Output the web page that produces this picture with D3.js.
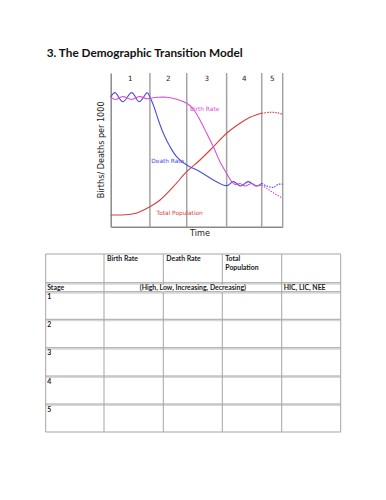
<!DOCTYPE html>
<html>
<head>
<meta charset="utf-8">
<script src="https://cdn.jsdelivr.net/npm/d3@7"></script>
<style>
  body { margin: 0; background: #fff; }
  svg { display: block; }
</style>
</head>
<body>
<svg width="386" height="500"></svg>
<script>
// stage boundaries along the time axis (0-100)
var stageEdges = [0, 22.8, 44.2, 67.4, 87.8, 100];
var stageNames = ["1", "2", "3", "4", "5"];

// [time, rate], rate on a 0-100 scale
var birthRate = [[0,84.4],[2.5,82.8],[7,84.6],[12.2,82.8],[16.6,84.6],[21.3,83.2],[22.8,83.5],
  [27.7,84.2],[32.6,84.2],[38.4,82.9],[44.2,80.3],[47.8,76.9],[51.9,69.4],[55.8,60.8],[59.7,52.0],
  [63.5,42.3],[67.4,34.7],[70.3,29.3],[72.3,27.5],[75.2,28.1],[78.1,26.5],[82,28.1],[84.8,26.5],
  [87.8,27.1],[90.7,25.0],[94.5,22.1],[100,18.5]];
var deathRate = [[0,84.4],[2.5,87.2],[7,81.3],[12.2,87.2],[16.6,81.3],[21.3,87.2],[22.8,84.2],
  [24.8,79.2],[27.7,69.4],[30.6,60.8],[34.5,52.0],[38.4,45.5],[44.2,40.1],[51.9,35.8],[59.7,30.4],
  [67.4,26.7],[71.3,29.3],[75.5,26.5],[80,29.3],[84.5,26.5],[87.8,28.2],[90.7,26.5],[94.5,25.6],
  [97.4,27.6],[100,27.6]];
var totalPop = [[0,7.6],[8.3,7.8],[14.1,8.6],[17,9.8],[22.8,13.0],[28.7,17.4],[36.4,26.0],
  [44.2,35.8],[51.9,43.4],[59.7,52.0],[67.4,60.8],[75.2,67.3],[81,71.2],[87.8,73.8],[92.6,74.4],
  [96.5,74.2],[100,73.1]];

// table texts
var tableHeaders = ["", "Birth Rate", "Death Rate", "Total|Population", ""];
var subHeaders = ["Stage", "(High, Low, Increasing, Decreasing)", "HIC, LIC, NEE"];
var tableStages = ["1", "2", "3", "4", "5"];

var svg = d3.select("svg");

// font size that gives a text the width it has in the picture
function fitSize(str, family, weight, width) {
    var t = svg.append("text").attr("font-family", family).attr("font-weight", weight)
        .attr("font-size", 10).text(str);
    var w = t.node().getComputedTextLength();
    t.remove();
    return 10 * width / w;
}

svg.append("text")
    .attr("x", 46.7)
    .attr("y", 57.3)
    .attr("font-family", "Lato")
    .attr("font-weight", "bold")
    .attr("font-size", fitSize("3. The Demographic Transition Model", "Lato", "bold", 196))
    .attr("fill", "#111")
    .text("3. The Demographic Transition Model");

// ---- chart ----
var x = d3.scaleLinear().domain([0, 100]).range([110.7, 282.7]);
var y = d3.scaleLinear().domain([0, 100]).range([226.7, 73]);

var chart = svg.append("g");

chart.selectAll(".stage")
    .data(stageEdges.slice(1))
    .enter()
    .append("line")
    .attr("class", "stage")
    .attr("x1", function(d) { return x(d); })
    .attr("x2", function(d) { return x(d); })
    .attr("y1", y(0))
    .attr("y2", y(100))
    .attr("stroke", "#a3a3a3")
    .attr("stroke-width", 1.5);

chart.append("g")
    .attr("transform", "translate(0," + y(0) + ")")
    .call(d3.axisBottom(x).tickValues([]).tickSizeOuter(0))
    .select(".domain").attr("stroke", "#8a8a8a").attr("stroke-width", 1.5);

chart.append("g")
    .attr("transform", "translate(" + x(0) + ",0)")
    .call(d3.axisLeft(y).tickValues([]).tickSizeOuter(0))
    .select(".domain").attr("stroke", "#8a8a8a").attr("stroke-width", 1.5);

chart.selectAll(".stageName")
    .data(stageNames)
    .enter()
    .append("text")
    .attr("class", "stageName")
    .attr("x", function(d, i) { return x((stageEdges[i] + stageEdges[i + 1]) / 2); })
    .attr("y", 80.7)
    .attr("text-anchor", "middle")
    .attr("font-family", "DejaVu Sans")
    .attr("font-size", 7.2)
    .attr("fill", "#222")
    .text(function(d) { return d; });

var line = d3.line()
    .x(function(d) { return x(d[0]); })
    .y(function(d) { return y(d[1]); })
    .curve(d3.curveCatmullRom.alpha(0.5));

var projFrom = stageEdges[4];
var labelSize = fitSize("Death Rate", "DejaVu Sans", "normal", 33);
var series = [
    { data: totalPop, color: "#d63f3f", label: "Total Population", lx: 26.7, ly: 7.4 },
    { data: deathRate, color: "#4d4de0", label: "Death Rate", lx: 23.6, ly: 41.6 },
    { data: birthRate, color: "#d551d5", label: "Birth Rate", lx: 46.1, ly: 75.5 }
];

series.forEach(function(s) {
    var solid = s.data.filter(function(d) { return d[0] <= projFrom; });
    var proj = s.data.filter(function(d) { return d[0] >= projFrom; });
    chart.append("path")
        .attr("d", line(solid))
        .attr("fill", "none")
        .attr("stroke", s.color)
        .attr("stroke-width", 1.1);
    chart.append("path")
        .attr("d", line(proj))
        .attr("fill", "none")
        .attr("stroke", s.color)
        .attr("stroke-width", 1.1)
        .attr("stroke-dasharray", "1.5,1.2");
    chart.append("text")
        .attr("x", x(s.lx))
        .attr("y", y(s.ly))
        .attr("font-family", "DejaVu Sans")
        .attr("font-size", labelSize)
        .attr("fill", s.color)
        .text(s.label);
});

chart.append("text")
    .attr("transform", "translate(104," + y(50) + ") rotate(-90)")
    .attr("text-anchor", "middle")
    .attr("font-family", "DejaVu Sans")
    .attr("font-size", fitSize("Births/ Deaths per 1000", "DejaVu Sans", "normal", 97))
    .attr("fill", "#222")
    .text("Births/ Deaths per 1000");

chart.append("text")
    .attr("x", 200)
    .attr("y", 235.5)
    .attr("text-anchor", "middle")
    .attr("font-family", "DejaVu Sans")
    .attr("font-size", fitSize("Time", "DejaVu Sans", "normal", 20))
    .attr("fill", "#222")
    .text("Time");

// ---- table ----
var colX = [45.7, 104, 163.3, 222.3, 281.7, 340.7];
var rowY = [254, 282.7, 291.7, 319.3, 347.7, 376, 404, 432];
var table = svg.append("g").attr("font-family", "Lato").attr("font-weight", "bold")
    .attr("font-size", 6.9).attr("fill", "#1a1a1a");

// horizontal rules, inner ones drawn as a soft double line
rowY.forEach(function(yy, i) {
    var inner = i > 0 && i < rowY.length - 1;
    if (inner) {
        table.append("line")
            .attr("x1", colX[0]).attr("x2", colX[5])
            .attr("y1", yy + 1.3).attr("y2", yy + 1.3)
            .attr("stroke", "#d6d6d6").attr("stroke-width", 1.4);
    }
    table.append("line")
        .attr("x1", colX[0]).attr("x2", colX[5])
        .attr("y1", yy).attr("y2", yy)
        .attr("stroke", "#a5a5a5").attr("stroke-width", 1);
});

colX.forEach(function(xx, i) {
    table.append("line")
        .attr("x1", xx).attr("x2", xx)
        .attr("y1", rowY[0]).attr("y2", rowY[rowY.length - 1])
        .attr("stroke", "#a5a5a5").attr("stroke-width", 1);
});

// cover the vertical rules the merged cell spans
table.append("rect")
    .attr("x", colX[2] - 1).attr("y", rowY[1] + 2.2)
    .attr("width", 2).attr("height", rowY[2] - rowY[1] - 2.4)
    .attr("fill", "#fff");
table.append("rect")
    .attr("x", colX[3] - 1).attr("y", rowY[1] + 2.2)
    .attr("width", 2).attr("height", rowY[2] - rowY[1] - 2.4)
    .attr("fill", "#fff");

tableHeaders.forEach(function(h, i) {
    if (!h) return;
    var t = table.append("text").attr("x", colX[i] + 3).attr("y", rowY[0] + 7.3);
    h.split("|").forEach(function(part, k) {
        t.append("tspan").attr("x", colX[i] + 3).attr("dy", k ? 9 : 0).text(part);
    });
});

table.append("text").attr("x", colX[0] + 1.5).attr("y", rowY[1] + 6.8).text(subHeaders[0]);
table.append("text").attr("x", (colX[1] + colX[4]) / 2).attr("y", rowY[1] + 6.8)
    .attr("text-anchor", "middle").text(subHeaders[1]);
table.append("text").attr("x", colX[4] + 2).attr("y", rowY[1] + 6.8).text(subHeaders[2]);

table.selectAll(".stageRow")
    .data(tableStages)
    .enter()
    .append("text")
    .attr("class", "stageRow")
    .attr("x", colX[0] + 1.5)
    .attr("y", function(d, i) { return rowY[i + 2] + 7.6; })
    .text(function(d) { return d; });
</script>
</body>
</html>
